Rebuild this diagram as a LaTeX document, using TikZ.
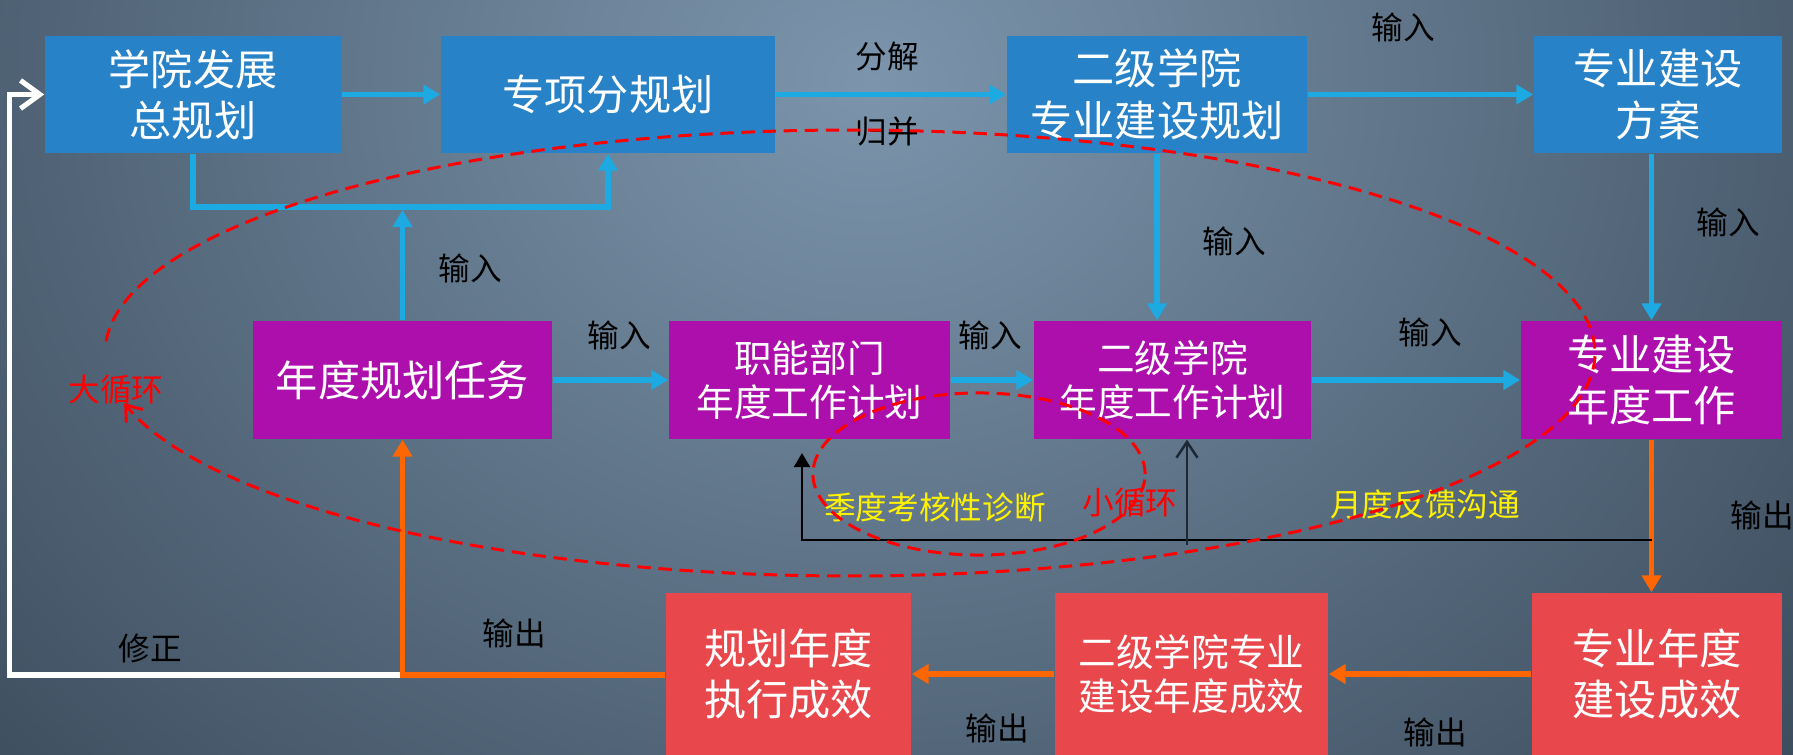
\documentclass[tikz,border=0pt]{standalone}
\usepackage{fontspec}
\setmainfont{Noto Sans CJK SC}
\usetikzlibrary{arrows.meta}
\definecolor{bgL}{HTML}{7C95AC}
\definecolor{bgD}{HTML}{1E2A38}
\definecolor{boxblue}{HTML}{2882C8}
\definecolor{arrowblue}{HTML}{1DAAE2}
\definecolor{boxpurple}{HTML}{AC0FAC}
\definecolor{boxred}{HTML}{E8474C}
\definecolor{arroworange}{HTML}{FF6600}
\definecolor{thindark}{HTML}{1C2834}
\begin{document}
\begin{tikzpicture}[x=0.01cm,y=-0.01cm,
  box/.style={inner sep=0pt, text=white, align=center},
  bigtext/.style={font=\fontsize{12pt}{14.6pt}\selectfont},
  smalltext/.style={font=\fontsize{10.7pt}{12.7pt}\selectfont},
  bluebox/.style={box, fill=boxblue, minimum height=1.17cm},
  purplebox/.style={box, fill=boxpurple, minimum height=1.18cm},
  redbox/.style={box, fill=boxred, minimum height=1.62cm},
  lbl/.style={font=\fontsize{9pt}{11pt}\selectfont, text=black, inner sep=0pt},
  bluearrow/.style={draw=arrowblue, line width=1.6pt, -{Triangle[length=4.8pt,width=5.4pt]}},
  orangearrow/.style={draw=arroworange, line width=1.45pt, -{Triangle[length=4.8pt,width=5.4pt]}},
  reddash/.style={draw=red, line width=0.85pt, dash pattern=on 3.8pt off 2.2pt},
]
\useasboundingbox (0,0) rectangle (1793,755);
\fill[bgD] (0,0) rectangle (1793,755);
\begin{scope}
\clip (0,0) rectangle (1793,755);
\shade[inner color=bgL, outer color=bgD] (870,80) ellipse [x radius=18cm, y radius=15.5cm];
\end{scope}

% boxes
\node[bluebox, bigtext, minimum width=2.96cm] (A) at (193,94.5) {学院发展\\总规划};
\node[bluebox, bigtext, minimum width=3.34cm] (B) at (608,94.5) {专项分规划};
\node[bluebox, bigtext, minimum width=3.00cm] (C) at (1157,94.5) {二级学院\\专业建设规划};
\node[bluebox, bigtext, minimum width=2.48cm] (D) at (1658,94.5) {专业建设\\方案};
\node[purplebox, bigtext, minimum width=2.99cm] (E) at (402.5,380) {年度规划任务};
\node[purplebox, smalltext, minimum width=2.81cm] (F) at (809.5,380) {职能部门\\年度工作计划};
\node[purplebox, smalltext, minimum width=2.77cm] (H) at (1172.5,380) {二级学院\\年度工作计划};
\node[purplebox, bigtext, minimum width=2.61cm] (I) at (1651.5,380) {专业建设\\年度工作};
\node[redbox, bigtext, minimum width=2.45cm] (G) at (788.5,674) {规划年度\\执行成效};
\node[redbox, smalltext, minimum width=2.73cm] (K) at (1191.5,674) {二级学院专业\\建设年度成效};
\node[redbox, bigtext, minimum width=2.50cm] (J) at (1657,674) {专业年度\\建设成效};

% coordinates
\coordinate (jn) at (402.5,207);
\coordinate (jt) at (402.5,210);
\coordinate (oc) at (402.5,675);
\coordinate (wst) at (407,675);
\coordinate (wc1) at (9.5,675);
\coordinate (wc2) at (9.5,94.5);
\coordinate (bk2) at (802,540);
\coordinate (bk3) at (802,453);
\coordinate (dk) at (1187,545);

% blue connectors
\draw[bluearrow] (A) -- (B);
\draw[bluearrow] (B) -- (C);
\draw[bluearrow] (C) -- (D);
\draw[bluearrow] (A.south) |- (jn -| B.south) -- (B.south);
\draw[bluearrow] (E.north) -- (jt);
\draw[bluearrow] (C.south) -- (C.south |- H.north);
\draw[bluearrow] (D.south -| I.north) -- (I.north);
\draw[bluearrow] (E) -- (F);
\draw[bluearrow] (F) -- (H);
\draw[bluearrow] (H) -- (I);

% white correction loop
\draw[white, line width=1.45pt, -{Straight Barb[length=5.5pt,width=8pt]}] (wst) -- (wc1) -- (wc2) -- (A.west);

% orange connectors
\draw[orangearrow] (I.south) -- (I.south |- J.north);
\draw[orangearrow] (J) -- (K);
\draw[orangearrow] (K) -- (G);
\draw[orangearrow] (G.west |- oc) -- (oc) -- (E.south);

% feedback lines
\draw[black, line width=0.8pt, -{Triangle[length=4pt,width=4.5pt]}] (I.south |- bk2) -- (bk2) -- (bk3);
\draw[thindark, line width=0.7pt, -{Straight Barb[length=4.5pt,width=6pt]}] (dk) -- (dk |- H.south);

% labels
\node[lbl] (l1) at (887,57) {分解};
\node[lbl] (l2) at (887,132) {归并};
\node[lbl] (l3) at (1403,27) {输入};
\node[lbl] (l4) at (470,268) {输入};
\node[lbl] (l5) at (1234,241) {输入};
\node[lbl] (l6) at (1728,222) {输入};
\node[lbl] (l7) at (619,335) {输入};
\node[lbl] (l8) at (990,335) {输入};
\node[lbl] (l9) at (1430,332) {输入};
\node[lbl] (l10) at (150,648) {修正};
\node[lbl] (l11) at (514,633) {输出};
\node[lbl] (l12) at (997,728) {输出};
\node[lbl] (l13) at (1435,732) {输出};
\node[lbl] (l14) at (1762,515) {输出};
\node[lbl, text=red] (l15) at (116,390) {大循环};
\node[lbl, text=red] (l16) at (1130,503) {小循环};
\node[lbl, text=yellow] (l17) at (935,507) {季度考核性诊断};
\node[lbl, text=yellow] (l18) at (1425,504) {月度反馈沟通};

% loops
\draw[reddash, -{Straight Barb[length=4pt,width=6pt]}] plot[domain=183:527, samples=200, smooth] ({850+745*cos(\x)},{353+223*sin(\x)});
\draw[reddash] (979,474) ellipse [x radius=1.66cm, y radius=0.81cm];
\end{tikzpicture}
\end{document}
